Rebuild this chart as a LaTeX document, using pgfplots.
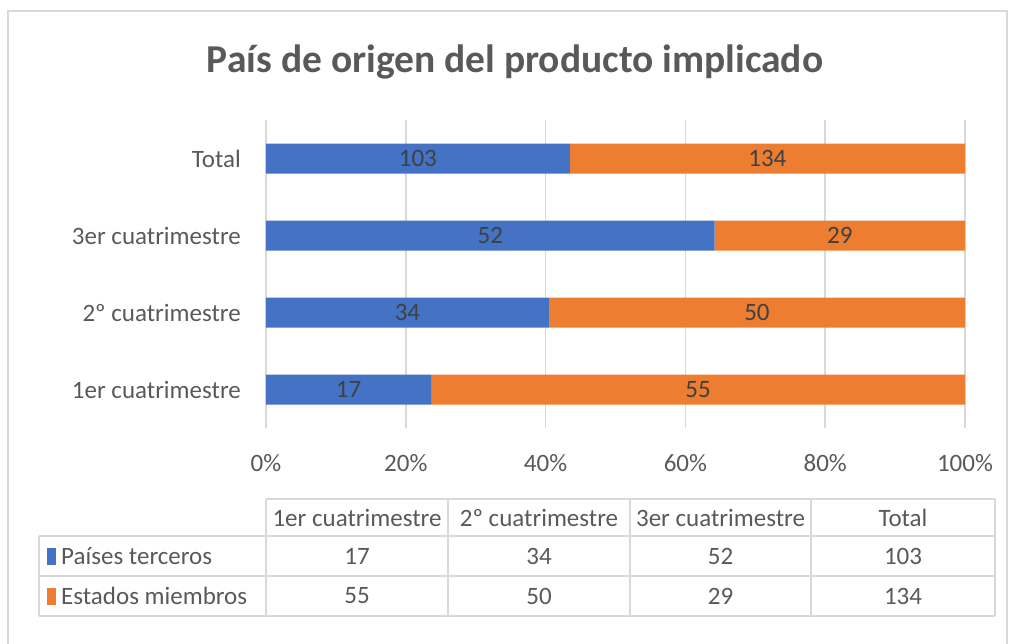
\documentclass[border=0pt]{standalone}
\usepackage{pgfplots}
\pgfplotsset{compat=1.18}
\usepackage{pgfplotstable}
\usepackage{fontspec}
\setmainfont{Carlito}
\definecolor{xblue}{HTML}{4472C4}
\definecolor{xorange}{HTML}{ED7D31}
\definecolor{gridgray}{HTML}{D9D9D9}
\definecolor{txtgray}{HTML}{595959}
\definecolor{labgray}{HTML}{404040}

% y: 0 = 1er, 1 = 2º, 2 = 3er, 3 = Total ; pct = share of the row total, n = count
\pgfplotstableread{
y pct n
0 23.611 17
1 40.476 34
2 64.198 52
3 43.460 103
}\terceros
\pgfplotstableread{
y pct n
0 76.389 55
1 59.524 50
2 35.802 29
3 56.540 134
}\miembros

\begin{document}
\begin{tikzpicture}[x=1pt,y=1pt]
\path[use as bounding box] (0,0) rectangle (1010,-643);
% chart area border
\draw[gridgray, line width=1.5pt] (8,-660) -- (8,-11) -- (1007,-11) -- (1007,-660);
% title
\node[font=\fontsize{39.5}{46}\selectfont\bfseries, text=txtgray] at (515,-62) {País de origen del producto implicado};

\begin{axis}[
  at={(266pt,-428pt)}, anchor=south west,
  scale only axis, width=699pt, height=308pt,
  xbar stacked, bar width=30pt,
  xmin=0, xmax=100, ymin=-0.5, ymax=3.5,
  ytick={0,1,2,3},
  yticklabels={1er cuatrimestre, 2º cuatrimestre, 3er cuatrimestre, Total},
  xtick={0,20,40,60,80,100},
  xticklabel={\pgfmathprintnumber{\tick}\%},
  xmajorgrids, grid style={draw=gridgray, line width=1.5pt},
  axis line style={draw=none}, major tick length=0pt,
  tick label style={font=\fontsize{25}{30}\selectfont, text=txtgray},
  yticklabel style={anchor=east, inner sep=0pt, xshift=-25pt},
  xticklabel style={anchor=center, inner sep=0pt, yshift=-35pt},
  /pgf/number format/assume math mode=true,
  nodes near coords, point meta=explicit symbolic,
  every node near coord/.append style={anchor=center, inner sep=0pt,
     font=\fontsize{25}{30}\selectfont, text=labgray},
  clip=false,
]
\addplot[fill=xblue, draw=none] table[x=pct, y=y, meta=n] {\terceros};
\addplot[fill=xorange, draw=none] table[x=pct, y=y, meta=n] {\miembros};
\end{axis}

% data table
\begin{scope}[gridgray, line width=1.5pt]
\draw (266,-499) -- (995,-499);
\draw (39,-536) -- (995,-536);
\draw (39,-576) -- (995,-576);
\draw (39,-616) -- (995,-616);
\draw (39,-536) -- (39,-616);
\foreach \xx in {266,448,630,811,995} \draw (\xx,-499) -- (\xx,-616);
\end{scope}
\begin{scope}[every node/.style={font=\fontsize{25}{30}\selectfont, text=txtgray, inner sep=0pt}]
\node at (357,-517.5) {1er cuatrimestre};
\node at (539,-517.5) {2º cuatrimestre};
\node at (720.5,-517.5) {3er cuatrimestre};
\node at (903,-517.5) {Total};
\node[anchor=west] at (47,-556) {\textcolor{xblue}{\rule[-1pt]{9pt}{17pt}}\hspace{5pt}Países terceros};
\node[anchor=west] at (47,-596) {\textcolor{xorange}{\rule[-1pt]{9pt}{17pt}}\hspace{5pt}Estados miembros};
\node at (357,-556) {17};
\node at (539,-556) {34};
\node at (720.5,-556) {52};
\node at (903,-556) {103};
\node at (357,-596) {55};
\node at (539,-596) {50};
\node at (720.5,-596) {29};
\node at (903,-596) {134};
\end{scope}
\end{tikzpicture}
\end{document}
